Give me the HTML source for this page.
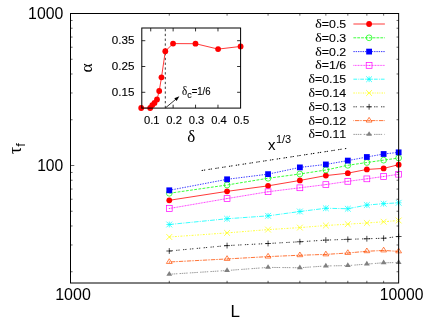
<!DOCTYPE html>
<html><head><meta charset="utf-8"><title>plot</title>
<style>html,body{margin:0;padding:0;background:#fff;}svg{display:block;will-change:transform;}text{font-family:"Liberation Sans",sans-serif;fill:#000;font-kerning:none;}.sy{font-family:"Liberation Serif",serif;}</style></head><body>
<svg width="436" height="320" viewBox="0 0 436 320">
<rect width="436" height="320" fill="#fff"/>
<path d="M70.50 271.74h2.1M398.65 271.74h-2.1M70.50 244.98h2.1M398.65 244.98h-2.1M70.50 225.99h2.1M398.65 225.99h-2.1M70.50 211.26h2.1M398.65 211.26h-2.1M70.50 199.22h2.1M398.65 199.22h-2.1M70.50 189.05h2.1M398.65 189.05h-2.1M70.50 180.23h2.1M398.65 180.23h-2.1M70.50 172.46h2.1M398.65 172.46h-2.1M70.50 165.50h3.8M398.65 165.50h-3.8M70.50 119.74h2.1M398.65 119.74h-2.1M70.50 92.98h2.1M398.65 92.98h-2.1M70.50 73.99h2.1M398.65 73.99h-2.1M70.50 59.26h2.1M398.65 59.26h-2.1M70.50 47.22h2.1M398.65 47.22h-2.1M70.50 37.05h2.1M398.65 37.05h-2.1M70.50 28.23h2.1M398.65 28.23h-2.1M70.50 20.46h2.1M398.65 20.46h-2.1M169.28 283.00v-2.2M169.28 13.50v2.2M227.07 283.00v-2.2M227.07 13.50v2.2M268.07 283.00v-2.2M268.07 13.50v2.2M299.87 283.00v-2.2M299.87 13.50v2.2M325.85 283.00v-2.2M325.85 13.50v2.2M347.82 283.00v-2.2M347.82 13.50v2.2M366.85 283.00v-2.2M366.85 13.50v2.2M383.63 283.00v-2.2M383.63 13.50v2.2" fill="none" stroke="#000" stroke-width="0.6"/>
<polyline points="169.28,200.30 227.07,191.35 268.07,185.85 299.87,180.45 325.85,175.60 347.82,173.15 366.85,169.45 383.63,168.40 398.65,164.70" fill="none" stroke="#ff0000" stroke-width="0.78"/>
<circle cx="169.28" cy="200.30" r="2.90" fill="#ff0000"/>
<circle cx="227.07" cy="191.35" r="2.90" fill="#ff0000"/>
<circle cx="268.07" cy="185.85" r="2.90" fill="#ff0000"/>
<circle cx="299.87" cy="180.45" r="2.90" fill="#ff0000"/>
<circle cx="325.85" cy="175.60" r="2.90" fill="#ff0000"/>
<circle cx="347.82" cy="173.15" r="2.90" fill="#ff0000"/>
<circle cx="366.85" cy="169.45" r="2.90" fill="#ff0000"/>
<circle cx="383.63" cy="168.40" r="2.90" fill="#ff0000"/>
<circle cx="398.65" cy="164.70" r="2.90" fill="#ff0000"/>
<polyline points="169.28,193.25 227.07,185.00 268.07,178.25 299.87,174.00 325.85,170.00 347.82,165.30 366.85,162.50 383.63,160.15 398.65,158.00" fill="none" stroke="#00ff00" stroke-width="0.78" stroke-dasharray="2.8 1.4"/>
<circle cx="169.28" cy="193.25" r="2.90" fill="none" stroke="#00ff00" stroke-width="0.7"/>
<circle cx="227.07" cy="185.00" r="2.90" fill="none" stroke="#00ff00" stroke-width="0.7"/>
<circle cx="268.07" cy="178.25" r="2.90" fill="none" stroke="#00ff00" stroke-width="0.7"/>
<circle cx="299.87" cy="174.00" r="2.90" fill="none" stroke="#00ff00" stroke-width="0.7"/>
<circle cx="325.85" cy="170.00" r="2.90" fill="none" stroke="#00ff00" stroke-width="0.7"/>
<circle cx="347.82" cy="165.30" r="2.90" fill="none" stroke="#00ff00" stroke-width="0.7"/>
<circle cx="366.85" cy="162.50" r="2.90" fill="none" stroke="#00ff00" stroke-width="0.7"/>
<circle cx="383.63" cy="160.15" r="2.90" fill="none" stroke="#00ff00" stroke-width="0.7"/>
<circle cx="398.65" cy="158.00" r="2.90" fill="none" stroke="#00ff00" stroke-width="0.7"/>
<polyline points="169.28,190.30 227.07,179.30 268.07,174.15 299.87,167.40 325.85,164.45 347.82,160.60 366.85,157.00 383.63,154.00 398.65,152.35" fill="none" stroke="#0000ff" stroke-width="0.78" stroke-dasharray="1.4 1.2"/>
<rect x="166.38" y="187.40" width="5.80" height="5.80" fill="#0000ff"/>
<rect x="224.17" y="176.40" width="5.80" height="5.80" fill="#0000ff"/>
<rect x="265.17" y="171.25" width="5.80" height="5.80" fill="#0000ff"/>
<rect x="296.97" y="164.50" width="5.80" height="5.80" fill="#0000ff"/>
<rect x="322.95" y="161.55" width="5.80" height="5.80" fill="#0000ff"/>
<rect x="344.92" y="157.70" width="5.80" height="5.80" fill="#0000ff"/>
<rect x="363.95" y="154.10" width="5.80" height="5.80" fill="#0000ff"/>
<rect x="380.73" y="151.10" width="5.80" height="5.80" fill="#0000ff"/>
<rect x="395.75" y="149.45" width="5.80" height="5.80" fill="#0000ff"/>
<polyline points="169.28,208.50 227.07,198.55 268.07,191.75 299.87,187.80 325.85,184.60 347.82,181.35 366.85,178.85 383.63,176.50 398.65,174.25" fill="none" stroke="#ff00ff" stroke-width="0.78" stroke-dasharray="1.0 0.6"/>
<rect x="166.38" y="205.60" width="5.80" height="5.80" fill="none" stroke="#ff00ff" stroke-width="0.7"/><circle cx="169.28" cy="208.50" r="0.5" fill="#ff00ff"/>
<rect x="224.17" y="195.65" width="5.80" height="5.80" fill="none" stroke="#ff00ff" stroke-width="0.7"/><circle cx="227.07" cy="198.55" r="0.5" fill="#ff00ff"/>
<rect x="265.17" y="188.85" width="5.80" height="5.80" fill="none" stroke="#ff00ff" stroke-width="0.7"/><circle cx="268.07" cy="191.75" r="0.5" fill="#ff00ff"/>
<rect x="296.97" y="184.90" width="5.80" height="5.80" fill="none" stroke="#ff00ff" stroke-width="0.7"/><circle cx="299.87" cy="187.80" r="0.5" fill="#ff00ff"/>
<rect x="322.95" y="181.70" width="5.80" height="5.80" fill="none" stroke="#ff00ff" stroke-width="0.7"/><circle cx="325.85" cy="184.60" r="0.5" fill="#ff00ff"/>
<rect x="344.92" y="178.45" width="5.80" height="5.80" fill="none" stroke="#ff00ff" stroke-width="0.7"/><circle cx="347.82" cy="181.35" r="0.5" fill="#ff00ff"/>
<rect x="363.95" y="175.95" width="5.80" height="5.80" fill="none" stroke="#ff00ff" stroke-width="0.7"/><circle cx="366.85" cy="178.85" r="0.5" fill="#ff00ff"/>
<rect x="380.73" y="173.60" width="5.80" height="5.80" fill="none" stroke="#ff00ff" stroke-width="0.7"/><circle cx="383.63" cy="176.50" r="0.5" fill="#ff00ff"/>
<rect x="395.75" y="171.35" width="5.80" height="5.80" fill="none" stroke="#ff00ff" stroke-width="0.7"/><circle cx="398.65" cy="174.25" r="0.5" fill="#ff00ff"/>
<polyline points="169.28,224.50 227.07,218.75 268.07,215.85 299.87,211.50 325.85,208.25 347.82,208.75 366.85,205.05 383.63,203.70 398.65,202.80" fill="none" stroke="#00ffff" stroke-width="0.78" stroke-dasharray="4.8 1.2 1.0 1.2"/>
<path d="M166.38 224.50H172.18M169.28 221.60V227.40M166.38 221.60L172.18 227.40M166.38 227.40L172.18 221.60" fill="none" stroke="#00ffff" stroke-width="0.7"/>
<path d="M224.17 218.75H229.97M227.07 215.85V221.65M224.17 215.85L229.97 221.65M224.17 221.65L229.97 215.85" fill="none" stroke="#00ffff" stroke-width="0.7"/>
<path d="M265.17 215.85H270.97M268.07 212.95V218.75M265.17 212.95L270.97 218.75M265.17 218.75L270.97 212.95" fill="none" stroke="#00ffff" stroke-width="0.7"/>
<path d="M296.97 211.50H302.77M299.87 208.60V214.40M296.97 208.60L302.77 214.40M296.97 214.40L302.77 208.60" fill="none" stroke="#00ffff" stroke-width="0.7"/>
<path d="M322.95 208.25H328.75M325.85 205.35V211.15M322.95 205.35L328.75 211.15M322.95 211.15L328.75 205.35" fill="none" stroke="#00ffff" stroke-width="0.7"/>
<path d="M344.92 208.75H350.72M347.82 205.85V211.65M344.92 205.85L350.72 211.65M344.92 211.65L350.72 205.85" fill="none" stroke="#00ffff" stroke-width="0.7"/>
<path d="M363.95 205.05H369.75M366.85 202.15V207.95M363.95 202.15L369.75 207.95M363.95 207.95L369.75 202.15" fill="none" stroke="#00ffff" stroke-width="0.7"/>
<path d="M380.73 203.70H386.53M383.63 200.80V206.60M380.73 200.80L386.53 206.60M380.73 206.60L386.53 200.80" fill="none" stroke="#00ffff" stroke-width="0.7"/>
<path d="M395.75 202.80H401.55M398.65 199.90V205.70M395.75 199.90L401.55 205.70M395.75 205.70L401.55 199.90" fill="none" stroke="#00ffff" stroke-width="0.7"/>
<polyline points="169.28,237.00 227.07,232.90 268.07,229.60 299.87,227.60 325.85,225.50 347.82,224.15 366.85,223.00 383.63,221.75 398.65,220.50" fill="none" stroke="#ffff00" stroke-width="0.78" stroke-dasharray="1.9 1.4 0.9 1.4"/>
<path d="M166.38 234.10L172.18 239.90M166.38 239.90L172.18 234.10" fill="none" stroke="#ffff00" stroke-width="0.7"/>
<path d="M224.17 230.00L229.97 235.80M224.17 235.80L229.97 230.00" fill="none" stroke="#ffff00" stroke-width="0.7"/>
<path d="M265.17 226.70L270.97 232.50M265.17 232.50L270.97 226.70" fill="none" stroke="#ffff00" stroke-width="0.7"/>
<path d="M296.97 224.70L302.77 230.50M296.97 230.50L302.77 224.70" fill="none" stroke="#ffff00" stroke-width="0.7"/>
<path d="M322.95 222.60L328.75 228.40M322.95 228.40L328.75 222.60" fill="none" stroke="#ffff00" stroke-width="0.7"/>
<path d="M344.92 221.25L350.72 227.05M344.92 227.05L350.72 221.25" fill="none" stroke="#ffff00" stroke-width="0.7"/>
<path d="M363.95 220.10L369.75 225.90M363.95 225.90L369.75 220.10" fill="none" stroke="#ffff00" stroke-width="0.7"/>
<path d="M380.73 218.85L386.53 224.65M380.73 224.65L386.53 218.85" fill="none" stroke="#ffff00" stroke-width="0.7"/>
<path d="M395.75 217.60L401.55 223.40M395.75 223.40L401.55 217.60" fill="none" stroke="#ffff00" stroke-width="0.7"/>
<polyline points="169.28,251.00 227.07,245.60 268.07,243.50 299.87,241.75 325.85,240.10 347.82,239.35 366.85,238.75 383.63,238.25 398.65,236.50" fill="none" stroke="#000000" stroke-width="0.78" stroke-dasharray="1.3 0.9 1.3 3.4"/>
<path d="M166.38 251.00H172.18M169.28 248.10V253.90" fill="none" stroke="#000000" stroke-width="0.7"/>
<path d="M224.17 245.60H229.97M227.07 242.70V248.50" fill="none" stroke="#000000" stroke-width="0.7"/>
<path d="M265.17 243.50H270.97M268.07 240.60V246.40" fill="none" stroke="#000000" stroke-width="0.7"/>
<path d="M296.97 241.75H302.77M299.87 238.85V244.65" fill="none" stroke="#000000" stroke-width="0.7"/>
<path d="M322.95 240.10H328.75M325.85 237.20V243.00" fill="none" stroke="#000000" stroke-width="0.7"/>
<path d="M344.92 239.35H350.72M347.82 236.45V242.25" fill="none" stroke="#000000" stroke-width="0.7"/>
<path d="M363.95 238.75H369.75M366.85 235.85V241.65" fill="none" stroke="#000000" stroke-width="0.7"/>
<path d="M380.73 238.25H386.53M383.63 235.35V241.15" fill="none" stroke="#000000" stroke-width="0.7"/>
<path d="M395.75 236.50H401.55M398.65 233.60V239.40" fill="none" stroke="#000000" stroke-width="0.7"/>
<polyline points="169.28,262.00 227.07,258.95 268.07,256.60 299.87,255.25 325.85,254.40 347.82,253.00 366.85,251.25 383.63,250.45 398.65,251.40" fill="none" stroke="#ff4d00" stroke-width="0.78" stroke-dasharray="0.7 0.9 4.4 0.9 0.7 0.4"/>
<path d="M169.28 258.75L172.18 263.45H166.38Z" fill="none" stroke="#ff4d00" stroke-width="0.7"/><circle cx="169.28" cy="262.00" r="0.5" fill="#ff4d00"/>
<path d="M227.07 255.70L229.97 260.40H224.17Z" fill="none" stroke="#ff4d00" stroke-width="0.7"/><circle cx="227.07" cy="258.95" r="0.5" fill="#ff4d00"/>
<path d="M268.07 253.35L270.97 258.05H265.17Z" fill="none" stroke="#ff4d00" stroke-width="0.7"/><circle cx="268.07" cy="256.60" r="0.5" fill="#ff4d00"/>
<path d="M299.87 252.00L302.77 256.70H296.97Z" fill="none" stroke="#ff4d00" stroke-width="0.7"/><circle cx="299.87" cy="255.25" r="0.5" fill="#ff4d00"/>
<path d="M325.85 251.15L328.75 255.85H322.95Z" fill="none" stroke="#ff4d00" stroke-width="0.7"/><circle cx="325.85" cy="254.40" r="0.5" fill="#ff4d00"/>
<path d="M347.82 249.75L350.72 254.45H344.92Z" fill="none" stroke="#ff4d00" stroke-width="0.7"/><circle cx="347.82" cy="253.00" r="0.5" fill="#ff4d00"/>
<path d="M366.85 248.00L369.75 252.70H363.95Z" fill="none" stroke="#ff4d00" stroke-width="0.7"/><circle cx="366.85" cy="251.25" r="0.5" fill="#ff4d00"/>
<path d="M383.63 247.20L386.53 251.90H380.73Z" fill="none" stroke="#ff4d00" stroke-width="0.7"/><circle cx="383.63" cy="250.45" r="0.5" fill="#ff4d00"/>
<path d="M398.65 248.15L401.55 252.85H395.75Z" fill="none" stroke="#ff4d00" stroke-width="0.7"/><circle cx="398.65" cy="251.40" r="0.5" fill="#ff4d00"/>
<polyline points="169.28,274.25 227.07,270.50 268.07,267.40 299.87,267.75 325.85,265.95 347.82,265.60 366.85,264.10 383.63,262.75 398.65,262.60" fill="none" stroke="#808080" stroke-width="0.78" stroke-dasharray="1.5 0.7 1.5 0.7 1.5 0.7 1.5 2.2"/>
<path d="M169.28 271.00L172.18 275.70H166.38Z" fill="#808080"/>
<path d="M227.07 267.25L229.97 271.95H224.17Z" fill="#808080"/>
<path d="M268.07 264.15L270.97 268.85H265.17Z" fill="#808080"/>
<path d="M299.87 264.50L302.77 269.20H296.97Z" fill="#808080"/>
<path d="M325.85 262.70L328.75 267.40H322.95Z" fill="#808080"/>
<path d="M347.82 262.35L350.72 267.05H344.92Z" fill="#808080"/>
<path d="M366.85 260.85L369.75 265.55H363.95Z" fill="#808080"/>
<path d="M383.63 259.50L386.53 264.20H380.73Z" fill="#808080"/>
<path d="M398.65 259.35L401.55 264.05H395.75Z" fill="#808080"/>
<path d="M201.7 170.5L346.8 148.4" fill="none" stroke="#000" stroke-width="1.0" stroke-dasharray="1.3 0.9 1.3 3.4"/>
<path d="M353.4 24.00H384.9" fill="none" stroke="#ff0000" stroke-width="0.78"/>
<circle cx="369.10" cy="24.00" r="2.90" fill="#ff0000"/>
<text transform="translate(346.20,28.00) scale(1.095,1)" font-size="11.3" text-anchor="end" stroke="#000" stroke-width="0.1"><tspan class="sy" font-size="12.6">δ</tspan>=0.5</text>
<path d="M353.4 37.80H384.9" fill="none" stroke="#00ff00" stroke-width="0.78" stroke-dasharray="2.8 1.05"/>
<circle cx="369.10" cy="37.80" r="2.90" fill="none" stroke="#00ff00" stroke-width="0.7"/>
<text transform="translate(346.20,41.80) scale(1.095,1)" font-size="11.3" text-anchor="end" stroke="#000" stroke-width="0.1"><tspan class="sy" font-size="12.6">δ</tspan>=0.3</text>
<path d="M353.4 51.60H384.9" fill="none" stroke="#0000ff" stroke-width="0.78" stroke-dasharray="1.4 0.9"/>
<rect x="366.20" y="48.70" width="5.80" height="5.80" fill="#0000ff"/>
<text transform="translate(346.20,55.60) scale(1.095,1)" font-size="11.3" text-anchor="end" stroke="#000" stroke-width="0.1"><tspan class="sy" font-size="12.6">δ</tspan>=0.2</text>
<path d="M353.4 65.40H384.9" fill="none" stroke="#ff00ff" stroke-width="0.78" stroke-dasharray="0.9 0.65"/>
<rect x="366.20" y="62.50" width="5.80" height="5.80" fill="none" stroke="#ff00ff" stroke-width="0.7"/><circle cx="369.10" cy="65.40" r="0.5" fill="#ff00ff"/>
<text transform="translate(346.20,69.40) scale(1.095,1)" font-size="11.3" text-anchor="end" stroke="#000" stroke-width="0.1"><tspan class="sy" font-size="12.6">δ</tspan>=1/6</text>
<path d="M353.4 79.20H384.9" fill="none" stroke="#00ffff" stroke-width="0.78" stroke-dasharray="3.75 1.2 0.9 1.0"/>
<path d="M366.20 79.20H372.00M369.10 76.30V82.10M366.20 76.30L372.00 82.10M366.20 82.10L372.00 76.30" fill="none" stroke="#00ffff" stroke-width="0.7"/>
<text transform="translate(346.20,83.20) scale(1.095,1)" font-size="11.3" text-anchor="end" stroke="#000" stroke-width="0.1"><tspan class="sy" font-size="12.6">δ</tspan>=0.15</text>
<path d="M353.4 93.00H384.9" fill="none" stroke="#ffff00" stroke-width="0.78" stroke-dasharray="1.4 1.1 0.9 1.3"/>
<path d="M366.20 90.10L372.00 95.90M366.20 95.90L372.00 90.10" fill="none" stroke="#ffff00" stroke-width="0.7"/>
<text transform="translate(346.20,97.00) scale(1.095,1)" font-size="11.3" text-anchor="end" stroke="#000" stroke-width="0.1"><tspan class="sy" font-size="12.6">δ</tspan>=0.14</text>
<path d="M353.4 106.80H384.9" fill="none" stroke="#000000" stroke-width="0.78" stroke-dasharray="1.3 0.9 1.3 3.4"/>
<path d="M366.20 106.80H372.00M369.10 103.90V109.70" fill="none" stroke="#000000" stroke-width="0.7"/>
<text transform="translate(346.20,110.80) scale(1.095,1)" font-size="11.3" text-anchor="end" stroke="#000" stroke-width="0.1"><tspan class="sy" font-size="12.6">δ</tspan>=0.13</text>
<path d="M353.4 120.60H384.9" fill="none" stroke="#ff4d00" stroke-width="0.78" stroke-dasharray="0.7 0.9 4.4 0.9 0.7 0.4"/>
<path d="M369.10 117.35L372.00 122.05H366.20Z" fill="none" stroke="#ff4d00" stroke-width="0.7"/><circle cx="369.10" cy="120.60" r="0.5" fill="#ff4d00"/>
<text transform="translate(346.20,124.60) scale(1.095,1)" font-size="11.3" text-anchor="end" stroke="#000" stroke-width="0.1"><tspan class="sy" font-size="12.6">δ</tspan>=0.12</text>
<path d="M353.4 134.40H384.9" fill="none" stroke="#808080" stroke-width="0.78" stroke-dasharray="1.5 0.7 1.5 0.7 1.5 0.7 1.5 2.2"/>
<path d="M369.10 131.15L372.00 135.85H366.20Z" fill="#808080"/>
<text transform="translate(346.20,138.40) scale(1.095,1)" font-size="11.3" text-anchor="end" stroke="#000" stroke-width="0.1"><tspan class="sy" font-size="12.6">δ</tspan>=0.11</text>
<rect x="70.5" y="13.5" width="328.15" height="269.50" fill="none" stroke="#000" stroke-width="1.0"/>
<text transform="translate(63.30,19.00) scale(0.99,1)" font-size="16" text-anchor="end">1000</text>
<text transform="translate(63.30,171.00) scale(0.98,1)" font-size="16" text-anchor="end">100</text>
<text transform="translate(73.00,300.20) scale(1.0,1)" font-size="16" text-anchor="middle">1000</text>
<text transform="translate(401.60,300.20) scale(0.98,1)" font-size="16" text-anchor="middle">10000</text>
<text transform="translate(235.20,317.30) scale(1.0,1)" font-size="17" text-anchor="middle">L</text>
<g transform="translate(20.5,154) rotate(-90)"><text x="0" y="0" font-size="18" class="sy">τ<tspan font-size="13" dy="4.5" style="font-family:'Liberation Sans',sans-serif">f</tspan></text></g>
<text x="268" y="149.8" font-size="15">x</text>
<text transform="translate(275.90,142.90) scale(0.93,1)" font-size="11.8" text-anchor="start">1/3</text>
<rect x="133.8" y="26.0" width="110.79999999999998" height="86.1" fill="#fff" fill-opacity="0"/>
<path d="M150.72 108.1v-3.4M150.72 28.0v3.4M173.14 108.1v-3.4M173.14 28.0v3.4M195.56 108.1v-3.4M195.56 28.0v3.4M217.98 108.1v-3.4M217.98 28.0v3.4M141.8 92.30h3.5M240.6 92.30h-3.5M141.8 66.50h3.5M240.6 66.50h-3.5M141.8 40.70h3.5M240.6 40.70h-3.5" fill="none" stroke="#000" stroke-width="0.8"/>
<path d="M165.3 108.1V28.0" fill="none" stroke="#000" stroke-width="0.78" stroke-dasharray="2.3 2.5"/>
<polyline points="141.2,108.0 150.2,108.0 152.3,105.1 154.5,102.9 157.0,99.5 159.2,91.0 161.5,77.3 165.3,51.2 173.05,43.6 195.5,43.7 218.1,49.1 240.6,46.45" fill="none" stroke="#ff0000" stroke-width="0.78"/>
<circle cx="141.2" cy="108.0" r="2.9" fill="#ff0000"/>
<circle cx="150.2" cy="108.0" r="2.9" fill="#ff0000"/>
<circle cx="152.3" cy="105.1" r="2.9" fill="#ff0000"/>
<circle cx="154.5" cy="102.9" r="2.9" fill="#ff0000"/>
<circle cx="157.0" cy="99.5" r="2.9" fill="#ff0000"/>
<circle cx="159.2" cy="91.0" r="2.9" fill="#ff0000"/>
<circle cx="161.5" cy="77.3" r="2.9" fill="#ff0000"/>
<circle cx="165.3" cy="51.2" r="2.9" fill="#ff0000"/>
<circle cx="173.05" cy="43.6" r="2.9" fill="#ff0000"/>
<circle cx="195.5" cy="43.7" r="2.9" fill="#ff0000"/>
<circle cx="218.1" cy="49.1" r="2.9" fill="#ff0000"/>
<circle cx="240.6" cy="46.45" r="2.9" fill="#ff0000"/>
<rect x="141.8" y="28.0" width="98.80" height="80.10" fill="none" stroke="#000" stroke-width="1.0"/>
<path d="M165.8 107.6L176.5 98.7" fill="none" stroke="#000" stroke-width="0.78"/>
<path d="M179.4 96.3L176.6 100.99L174.3 98.21Z" fill="#000"/>
<text transform="translate(151.72,124.00) scale(1.0,1)" font-size="11.2" text-anchor="middle" stroke="#000" stroke-width="0.12">0.1</text>
<text transform="translate(174.14,124.00) scale(1.0,1)" font-size="11.2" text-anchor="middle" stroke="#000" stroke-width="0.12">0.2</text>
<text transform="translate(196.56,124.00) scale(1.0,1)" font-size="11.2" text-anchor="middle" stroke="#000" stroke-width="0.12">0.3</text>
<text transform="translate(218.98,124.00) scale(1.0,1)" font-size="11.2" text-anchor="middle" stroke="#000" stroke-width="0.12">0.4</text>
<text transform="translate(241.40,124.00) scale(1.0,1)" font-size="11.2" text-anchor="middle" stroke="#000" stroke-width="0.12">0.5</text>
<text transform="translate(134.40,95.90) scale(1.04,1)" font-size="11.2" text-anchor="end" stroke="#000" stroke-width="0.12">0.15</text>
<text transform="translate(134.40,70.10) scale(1.04,1)" font-size="11.2" text-anchor="end" stroke="#000" stroke-width="0.12">0.25</text>
<text transform="translate(134.40,44.30) scale(1.04,1)" font-size="11.2" text-anchor="end" stroke="#000" stroke-width="0.12">0.35</text>
<text x="191.3" y="142.3" font-size="17" class="sy" text-anchor="middle">δ</text>
<g transform="translate(92.1,68.0) rotate(-90)"><text x="0" y="0" font-size="17.5" class="sy" text-anchor="middle">α</text></g>
<text transform="translate(182.0,94.8) scale(0.95,1)" font-size="10.1" stroke="#000" stroke-width="0.1"><tspan class="sy" font-size="11.6">δ</tspan><tspan font-size="9.4" dy="3.2">c</tspan><tspan dy="-3.2">=1/6</tspan></text>
</svg></body></html>
